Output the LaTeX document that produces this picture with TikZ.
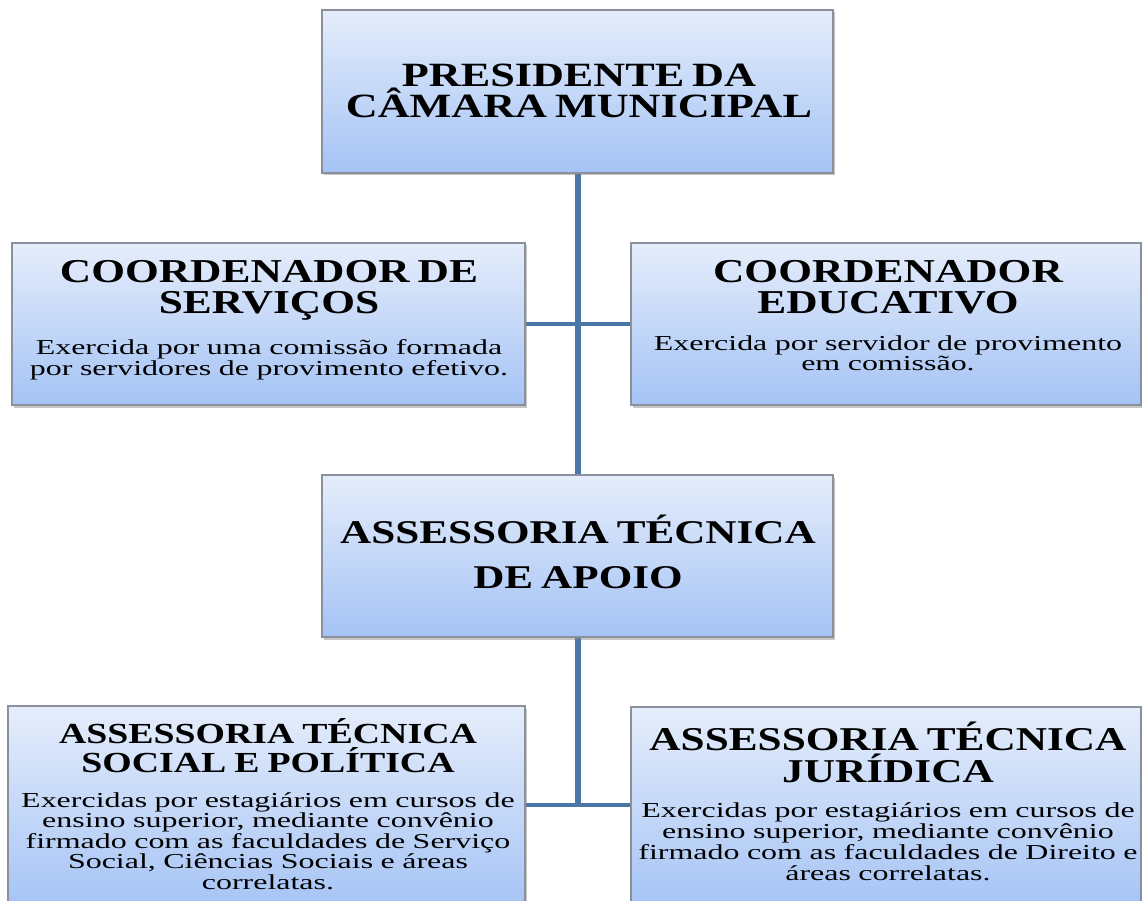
\documentclass[tikz,border=0pt]{standalone}
\usepackage{fontspec}
\newfontfamily\titlefont{Liberation Serif}[FakeStretch=1.3]
\newfontfamily\bodyfont{Liberation Serif}[FakeStretch=1.5]
\usetikzlibrary{shadows,backgrounds}
\setlength{\lineskiplimit}{-100pt}

\definecolor{boxtop}{RGB}{229,237,251}
\definecolor{boxbottom}{RGB}{164,195,245}
\definecolor{boxline}{RGB}{138,144,156}
\definecolor{linkblue}{RGB}{74,119,168}

\newcommand{\cargo}[3]{{\titlefont\bfseries\fontsize{#1}{#2}\selectfont\spaceskip=8pt #3\par}}
\newcommand{\funcao}[3]{\vspace{#1}{\bodyfont\fontsize{21.3}{#2}\selectfont\spaceskip=7.5pt #3\par}}

\tikzset{
  orgbox/.style={draw=boxline, line width=1.2pt, top color=boxtop, bottom color=boxbottom,
    drop shadow={shadow xshift=2pt, shadow yshift=-2.5pt, opacity=.45},
    inner sep=0pt},
  rotulo/.style={inner sep=0pt, align=center, text width=540pt, anchor=base},
  elo/.style={draw=linkblue, line width=#1},
}

\begin{document}
\begin{tikzpicture}[x=1pt, y=-1pt]
\useasboundingbox (0,0) rectangle (1142,901);

% caixas
\node[orgbox, minimum width=511pt, minimum height=163pt] (pres) at (577.5,91.5) {};
\node[orgbox, minimum width=513pt, minimum height=162pt] (coordserv) at (268.5,324) {};
\node[orgbox, minimum width=510pt, minimum height=162pt] (coordedu) at (886,324) {};
\node[orgbox, minimum width=511pt, minimum height=162pt] (assess) at (577.5,556) {};
\node[orgbox, minimum width=517pt, minimum height=206pt] (social) at (266.5,809) {};
\node[orgbox, minimum width=510pt, minimum height=205pt] (jurid) at (886,809.5) {};

% textos
\node[rotulo] (pres-txt) at (579,87)
  {\cargo{34}{31}{PRESIDENTE DA\\ CÂMARA MUNICIPAL}};
\node[rotulo] (coordserv-txt) at (269,282)
  {\cargo{33.4}{31.6}{COORDENADOR DE\\ SERVIÇOS}
   \funcao{18.2pt}{18.5}{Exercida por uma comissão formada\\ por servidores de provimento efetivo.}};
\node[rotulo] (coordedu-txt) at (888,282)
  {\cargo{33.4}{31.6}{COORDENADOR\\ EDUCATIVO}
   \funcao{16.7pt}{20}{Exercida por servidor de provimento\\ em comissão.}};
\node[rotulo] (assess-txt) at (578,543.5)
  {\cargo{33.2}{45}{ASSESSORIA TÉCNICA\\ DE APOIO}};
\node[rotulo] (social-txt) at (268,743.5)
  {\cargo{29.1}{28.7}{ASSESSORIA TÉCNICA\\ SOCIAL E POLÍTICA}
   \funcao{14.5pt}{20.5}{Exercidas por estagiários em cursos de\\ ensino superior, mediante convênio\\ firmado com as faculdades de Serviço\\ Social, Ciências Sociais e áreas\\ correlatas.}};
\node[rotulo] (jurid-txt) at (888,750.5)
  {\cargo{33.3}{31.7}{ASSESSORIA TÉCNICA\\ JURÍDICA}
   \funcao{14.8pt}{20.8}{Exercidas por estagiários em cursos de\\ ensino superior, mediante convênio\\ firmado com as faculdades de Direito e\\ áreas correlatas.}};

% ligacoes
\coordinate (junta) at (577.5,805);
\begin{scope}[on background layer]
\draw[elo=6pt] (pres.south) -- (assess.north);
\draw[elo=3.5pt] (coordserv.east) -- (coordedu.west);
\draw[elo=6pt] (assess.south) -- (junta);
\draw[elo=3.5pt] (social.east |- junta) -- (jurid.west |- junta);
\end{scope}
\end{tikzpicture}
\end{document}
